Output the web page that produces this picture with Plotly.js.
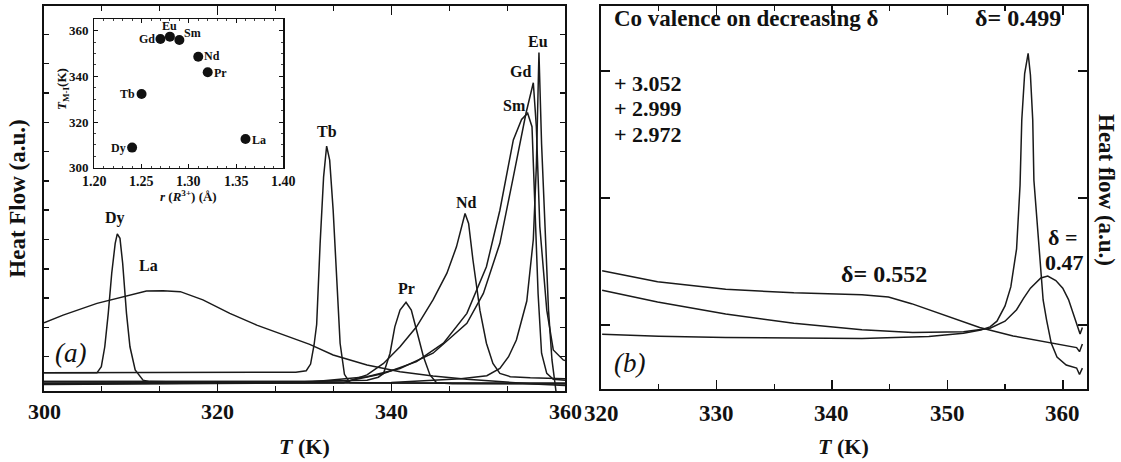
<!DOCTYPE html>
<html>
<head>
<meta charset="utf-8">
<script src="https://cdn.plot.ly/plotly-3.0.1.min.js"></script>
<style>
html,body{margin:0;padding:0;background:#fff;}
#chart{width:1121px;height:462px;}
</style>
</head>
<body>
<div id="chart"></div>
<script>
// ---------- Panel (a): DSC curves, T (K) vs heat flow (a.u.) ----------
const tLa = [300, 302.2, 306.1, 309.1, 311.8, 313.7, 315.7, 318.3, 321.4, 324.5, 327.6, 330.6, 333.3, 337.2, 341.0, 344.8, 348.7, 352.5, 356.4, 360];
const hLa = [2.16, 2.42, 2.82, 3.05, 3.24, 3.25, 3.22, 2.94, 2.48, 2.08, 1.74, 1.42, 1.06, 0.72, 0.49, 0.34, 0.23, 0.15, 0.07, 0.02];

const tDy = [300, 306.1, 306.6, 307.0, 307.4, 307.8, 308.2, 308.44, 308.75, 309.06, 309.5, 309.9, 310.5, 311.4, 312.2, 320, 340, 360];
const hDy = [0.45, 0.45, 0.66, 1.34, 2.48, 3.85, 4.87, 5.19, 5.04, 4.19, 2.48, 1.34, 0.55, 0.20, 0.15, 0.12, 0.10, 0.08];

const tTb = [300, 320, 329.0, 330.2, 330.7, 331.1, 331.4, 331.8, 332.2, 332.55, 332.9, 333.3, 333.7, 334.1, 334.6, 335.2, 337, 360];
const hTb = [0.45, 0.45, 0.47, 0.52, 0.75, 1.4, 2.1, 4.87, 7.14, 8.19, 7.71, 6.0, 3.73, 1.46, 0.4, 0.12, 0.1, 0.1];

const tPr = [300, 330, 337.2, 338.5, 339.1, 339.85, 340.4, 341.0, 341.69, 342.3, 342.9, 343.7, 344.45, 345.2, 347, 360];
const hPr = [0.15, 0.15, 0.2, 0.3, 0.43, 1.12, 2.02, 2.59, 2.86, 2.59, 1.91, 1.0, 0.38, 0.11, 0.08, 0.08];

const tNd = [300, 330, 334.5, 337.2, 339.1, 341.0, 342.9, 344.8, 346.4, 347.5, 348.1, 348.49, 348.9, 349.4, 350.2, 350.95, 351.7, 352.5, 353.7, 356, 360];
const hNd = [0.08, 0.09, 0.11, 0.38, 0.77, 1.34, 2.02, 2.94, 3.85, 4.75, 5.44, 5.89, 5.55, 4.30, 2.59, 1.46, 0.77, 0.43, 0.32, 0.28, 0.25];

const tSm = [300, 330, 335.2, 339.1, 342.9, 346.0, 348.7, 350.95, 352.5, 354.05, 355.0, 355.7, 356.2, 356.5, 356.9, 357.3, 357.9, 358.65, 360];
const hSm = [0.15, 0.15, 0.18, 0.43, 0.83, 1.46, 2.48, 4.07, 6.0, 8.40, 9.1, 9.31, 8.85, 6.57, 3.16, 1.12, 0.43, 0.23, 0.2];

const tGd = [300, 330, 337.2, 341.0, 344.8, 348.7, 350.6, 352.5, 354.05, 355.5, 356.35, 356.7, 357.1, 357.9, 358.65, 359.8, 360];
const hGd = [0.1, 0.12, 0.32, 0.60, 1.12, 2.14, 3.16, 4.87, 7.14, 9.3, 10.35, 8.85, 5.44, 2.59, 1.23, 0.89, 0.87];

const tEu = [300, 340, 348, 351, 352.5, 353.5, 354.4, 355.6, 356.35, 356.7, 357.0, 357.3, 357.7, 358.1, 358.5, 358.9, 359.1];
const hEu = [0.05, 0.12, 0.25, 0.35, 0.6, 1.0, 1.57, 2.9, 5.0, 7.5, 11.38, 8.28, 5.44, 2.59, 0.89, -0.14, -0.5];

// ---------- Inset: T_M-I vs ionic radius ----------
const insetR = [1.24, 1.25, 1.27, 1.28, 1.29, 1.31, 1.32, 1.36];
const insetT = [308.8, 332.3, 356.4, 357.4, 355.9, 348.6, 341.8, 312.6];
const insetNames = ['Dy', 'Tb', 'Gd', 'Eu', 'Sm', 'Nd', 'Pr', 'La'];

// ---------- Panel (b): heat flow on decreasing delta ----------
const tD552 = [320.1, 324.9, 330.8, 336.7, 342.6, 344.9, 346.9, 349.9, 352.8, 355.7, 358.7, 361.2, 361.45, 361.7];
const hD552 = [1.427, 1.341, 1.282, 1.253, 1.239, 1.221, 1.168, 1.074, 0.980, 0.914, 0.867, 0.822, 0.79, 0.85];

const tD047 = [320.1, 324.9, 330.8, 336.7, 342.6, 347.0, 351.4, 353.7, 355.0, 356.0, 356.6, 357.2, 358.1, 358.7, 359.4, 360.0, 360.5, 361.0, 361.3, 361.5, 361.7];
const hD047 = [1.274, 1.181, 1.087, 1.013, 0.962, 0.941, 0.946, 0.975, 1.03, 1.12, 1.21, 1.29, 1.37, 1.386, 1.35, 1.29, 1.20, 1.07, 0.98, 0.93, 0.98];

const tD499 = [320.1, 325, 330.8, 336, 342.6, 348.4, 351.4, 352.9, 353.7, 354.3, 355.0, 355.5, 356.0, 356.3, 356.45, 356.7, 357.0, 357.2, 357.4, 357.5, 358.0, 358.3, 358.6, 359.0, 359.5, 360.3, 361.2, 361.45, 361.7];
const hD499 = [0.927, 0.912, 0.901, 0.895, 0.893, 0.909, 0.935, 0.96, 0.985, 1.03, 1.15, 1.3, 1.6, 2.1, 2.614, 2.98, 3.139, 2.969, 2.614, 2.14, 1.5, 1.197, 1.039, 0.858, 0.748, 0.685, 0.661, 0.61, 0.66];

// tick values / labels
const xTicksA = [300, 320, 340, 360];
const xTicksB = [320, 330, 340, 350, 360];
const xTicksInset = [1.20, 1.25, 1.30, 1.35, 1.40];
const xTickTextInset = ['1.20', '1.25', '1.30', '1.35', '1.40'];
const yTicksInset = [300, 320, 340, 360];

const SERIF = 'Liberation Serif, Times New Roman, serif';
const LINE = {color: '#1a1a1a', width: 1.5};

function curve(x, y, xa, ya, name) {
  return {x: x, y: y, xaxis: xa, yaxis: ya, type: 'scatter', mode: 'lines', line: LINE, name: name, showlegend: false, hoverinfo: 'skip'};
}

const traces = [
  curve(tLa, hLa, 'x', 'y', 'La'),
  curve(tDy, hDy, 'x', 'y', 'Dy'),
  curve(tTb, hTb, 'x', 'y', 'Tb'),
  curve(tPr, hPr, 'x', 'y', 'Pr'),
  curve(tNd, hNd, 'x', 'y', 'Nd'),
  curve(tSm, hSm, 'x', 'y', 'Sm'),
  curve(tGd, hGd, 'x', 'y', 'Gd'),
  curve(tEu, hEu, 'x', 'y', 'Eu'),
  curve(tD552, hD552, 'x2', 'y2', 'δ=0.552'),
  curve(tD047, hD047, 'x2', 'y2', 'δ=0.47'),
  curve(tD499, hD499, 'x2', 'y2', 'δ=0.499'),
  {x: insetR, y: insetT, xaxis: 'x3', yaxis: 'y3', type: 'scatter', mode: 'markers',
   marker: {color: '#111', size: 10}, showlegend: false, hoverinfo: 'skip'}
];

const W = 1121, H = 462;
const px = v => v / W;
const py = v => 1 - v / H;

const frame = {showline: true, linewidth: 2, linecolor: '#111', mirror: 'ticks', showgrid: false, zeroline: false,
               ticks: 'inside', tickcolor: '#111', tickwidth: 1.5, showticklabels: false, tickmode: 'array'};

const layout = {
  width: W, height: H,
  margin: {l: 0, r: 0, t: 0, b: 0},
  paper_bgcolor: '#fff', plot_bgcolor: 'rgba(0,0,0,0)',
  showlegend: false,
  font: {family: SERIF, color: '#111'},
  xaxis: Object.assign({}, frame, {
    domain: [px(44), px(565)], range: [300, 360], anchor: 'y',
    tickvals: xTicksA, ticklen: 9,
    minor: {dtick: 20 / 3, tick0: 300, ticklen: 5, ticks: 'inside', tickcolor: '#111', tickwidth: 1.2, showgrid: false}
  }),
  yaxis: Object.assign({}, frame, {
    domain: [py(391), py(6)], range: [-0.17, 12.97], anchor: 'x',
    tickvals: [1, 2, 3, 4, 5, 6, 7, 8, 9, 10, 11, 12], ticklen: 5,
    title: {text: '<b>Heat Flow (a.u.)</b>', font: {family: SERIF, size: 23, color: '#111'}, standoff: 10}
  }),
  xaxis2: Object.assign({}, frame, {
    domain: [px(601), px(1087)], range: [320, 362.1], anchor: 'y2',
    tickvals: xTicksB, ticklen: 9,
    minor: {dtick: 5, tick0: 320, ticklen: 5, ticks: 'inside', tickcolor: '#111', tickwidth: 1.2, showgrid: false}
  }),
  yaxis2: Object.assign({}, frame, {
    domain: [py(389), py(6)], range: [0.496, 3.512], anchor: 'x2',
    tickvals: [1, 2, 3], ticklen: 9
  }),
  xaxis3: Object.assign({}, frame, {
    domain: [px(94.3), px(283.3)], range: [1.20, 1.40], anchor: 'y3', linewidth: 1.5,
    tickvals: xTicksInset, ticklen: 4, tickwidth: 1,
    minor: {dtick: 0.01, tick0: 1.2, ticklen: 2, ticks: 'inside', tickcolor: '#111', tickwidth: 0.8, showgrid: false}
  }),
  yaxis3: Object.assign({}, frame, {
    domain: [py(167.7), py(19.3)], range: [300, 365], anchor: 'x3', linewidth: 1.5,
    tickvals: yTicksInset, ticklen: 4, tickwidth: 1,
    minor: {dtick: 5, tick0: 300, ticklen: 2, ticks: 'inside', tickcolor: '#111', tickwidth: 0.8, showgrid: false}
  }),
  annotations: []
};

function note(text, x, y, xref, yref, size, opts) {
  return Object.assign({text: text, x: x, y: y, xref: xref, yref: yref, showarrow: false,
    font: {family: SERIF, size: size, color: '#111'}, xanchor: 'center', yanchor: 'middle'}, opts || {});
}
const A = layout.annotations;

// bold tick labels, placed on the axes' own scales
xTicksA.forEach(v => A.push(note('<b>' + v + '</b>', v, py(411), 'x', 'paper', 22)));
xTicksB.forEach(v => A.push(note('<b>' + v + '</b>', v, py(413), 'x2', 'paper', 23)));
xTicksInset.forEach((v, i) => A.push(note('<b>' + xTickTextInset[i] + '</b>', v, py(181), 'x3', 'paper', 14)));
yTicksInset.forEach(v => A.push(note('<b>' + v + '</b>', px(91), v, 'paper', 'y3', 13, {xanchor: 'right'})));

// axis titles
A.push(note('<b><i>T</i> (K)</b>', 330, py(446), 'x', 'paper', 22));
A.push(note('<b><i>T</i> (K)</b>', 341, py(446), 'x2', 'paper', 22));
A.push(note('<b><i>r</i> (<i>R</i><sup>3+</sup>) (Å)</b>', 1.30, py(196), 'x3', 'paper', 13));
A.push(note('<b><i>T</i><sub>M-I</sub>(K)</b>', px(63), py(89), 'paper', 'paper', 13, {textangle: -90}));
A.push(note('<b>Heat flow (a.u.)</b>', px(1106), py(190), 'paper', 'paper', 23, {textangle: 90}));

// panel (a) peak labels
const peakLabels = [
  ['Dy', 308.18, 5.73], ['La', 312.09, 4.10], ['Tb', 332.59, 8.70], ['Pr', 341.69, 3.34],
  ['Nd', 348.60, 6.25], ['Sm', 354.24, 9.56], ['Gd', 354.93, 10.75], ['Eu', 356.89, 11.77]
];
peakLabels.forEach(p => A.push(note('<b>' + p[0] + '</b>', p[1], p[2], 'x', 'y', 16)));
A.push(note('<i>(a)</i>', 303.0, 1.13, 'x', 'y', 27));

// inset labels
const insetLabels = [
  ['Gd', 1.2663, 356.4, 'right'], ['Eu', 1.2796, 362.1, 'center'], ['Sm', 1.2928, 358.8, 'left'],
  ['Nd', 1.314, 348.9, 'left'], ['Pr', 1.3246, 341.5, 'left'], ['Tb', 1.2452, 332.3, 'right'],
  ['Dy', 1.2357, 308.6, 'right'], ['La', 1.3648, 312.1, 'left']
];
insetLabels.forEach(p => A.push(note('<b>' + p[0] + '</b>', p[1], p[2], 'x3', 'y3', 12, {xanchor: p[3]})));

// panel (b) texts
A.push(note('<b>Co valence on decreasing δ</b>', 320.95, 3.417, 'x2', 'y2', 23, {xanchor: 'left'}));
A.push(note('<b>+ 3.052</b>', 320.95, 2.898, 'x2', 'y2', 22, {xanchor: 'left'}));
A.push(note('<b>+ 2.999</b>', 320.95, 2.701, 'x2', 'y2', 22, {xanchor: 'left'}));
A.push(note('<b>+ 2.972</b>', 320.95, 2.504, 'x2', 'y2', 22, {xanchor: 'left'}));
A.push(note('<b>δ= 0.499</b>', 356.1, 3.417, 'x2', 'y2', 24));
A.push(note('<b>δ= 0.552</b>', 344.5, 1.40, 'x2', 'y2', 24));
A.push(note('<b>δ =</b>', 360.0, 1.69, 'x2', 'y2', 22));
A.push(note('<b>0.47</b>', 360.17, 1.49, 'x2', 'y2', 22));
A.push(note('<i>(b)</i>', 322.5, 0.70, 'x2', 'y2', 27));

Plotly.newPlot('chart', traces, layout, {staticPlot: true, displayModeBar: false});
</script>
</body>
</html>
